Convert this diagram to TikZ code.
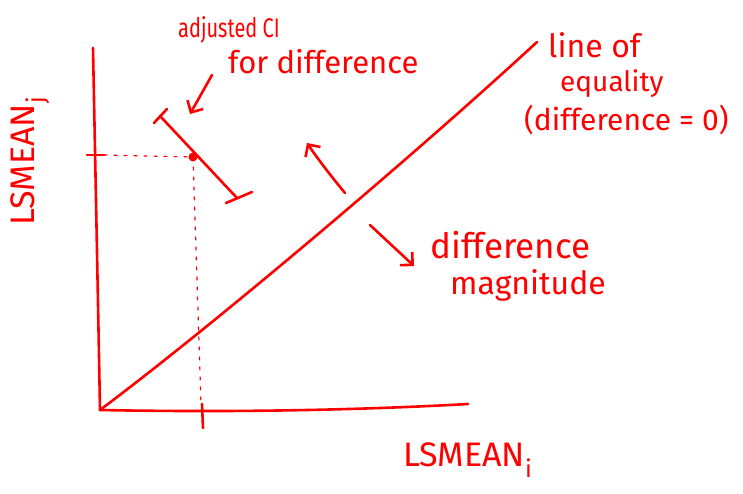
\documentclass[tikz,border=0pt]{standalone}
\usepackage{fontspec}
\setmainfont{Fira Sans}
\usetikzlibrary{arrows.meta}
\definecolor{ink}{RGB}{255,0,0}
\tikzset{
  pen/.style={draw=ink, line width=2.6pt, line cap=round, line join=round},
  thinpen/.style={draw=ink, line width=1.2pt, line cap=round, dash pattern=on 3pt off 7pt},
  pointer/.style={pen, -{Straight Barb[length=9pt,width=18pt,line width=2.6pt]}},
  hand/.style={text=ink, inner sep=0pt, anchor=west},
}
\newcommand{\subx}[1]{\raisebox{-0.3em}{\fontsize{24}{24}\selectfont #1}}
\begin{document}
\begin{tikzpicture}[x=1pt,y=-1pt]
\useasboundingbox (0,0) rectangle (743,494);
% axes
\coordinate (O) at (100,410);
\coordinate (ytop) at (93,48);
\coordinate (xend) at (468,404);
\coordinate (eqtop) at (537,42);
\draw[pen] (O) .. controls (98,300) and (95,150) .. (ytop);
\draw[pen] (O) .. controls (250,413) and (380,409) .. (xend);
\draw[pen] (O) .. controls (220,320) and (420,150) .. (eqtop);
% ticks
\coordinate (yt1) at (87,155); \coordinate (yt2) at (104,155);
\coordinate (xt1) at (202,404); \coordinate (xt2) at (203,428);
\draw[pen] (yt1) -- (yt2);
\draw[pen] (xt1) -- (xt2);
% dashed guides
\coordinate (dot) at (193,157);
\coordinate (dv) at (201,404);
\draw[thinpen] (yt2) -- (dot);
\draw[thinpen] (dot) -- (dv);
% CI bar
\coordinate (ciA) at (160,116);
\coordinate (ciB) at (237,198);
\draw[pen] (ciA) -- (ciB);
\draw[pen] (154,123) -- (167,109);
\draw[pen] (226,203) -- (252,192);
\fill[ink] (dot) circle (4.5);
% pointer from CI label
\coordinate (p1) at (212,75); \coordinate (p2) at (190,114);
\draw[pointer] (p1) -- (p2);
% direction arrows
\coordinate (u1) at (345,193); \coordinate (u2) at (307,143);
\draw[pointer] (u1) .. controls (330,175) and (315,155) .. (u2);
\coordinate (d1) at (370,225); \coordinate (d2) at (414,266);
\draw[pointer] (d1) -- (d2);
% texts
\node[hand, font=\fontsize{27}{27}\selectfont] (t1) at (178,30) {\scalebox{0.74}[1]{adjusted CI}};
\node[hand, font=\fontsize{31}{31}\selectfont] (t2) at (228,62) {for difference};
\node[hand, font=\fontsize{32}{32}\selectfont] (t3) at (548,45) {line of};
\node[hand, font=\fontsize{28}{28}\selectfont] (t4) at (560,84) {equality};
\node[hand, font=\fontsize{30}{30}\selectfont] (t5) at (524,120) {(difference = 0)};
\node[hand, font=\fontsize{35}{35}\selectfont] (t6) at (430,245) {difference};
\node[hand, font=\fontsize{32}{32}\selectfont] (t7) at (450,285) {magnitude};
\node[hand, font=\fontsize{34}{34}\selectfont] (t8) at (403,460) {LSMEAN\subx{i}};
\node[hand, font=\fontsize{34}{34}\selectfont, rotate=90, anchor=west] (t9) at (30,226) {LSMEAN\subx{j}};
\end{tikzpicture}
\end{document}
